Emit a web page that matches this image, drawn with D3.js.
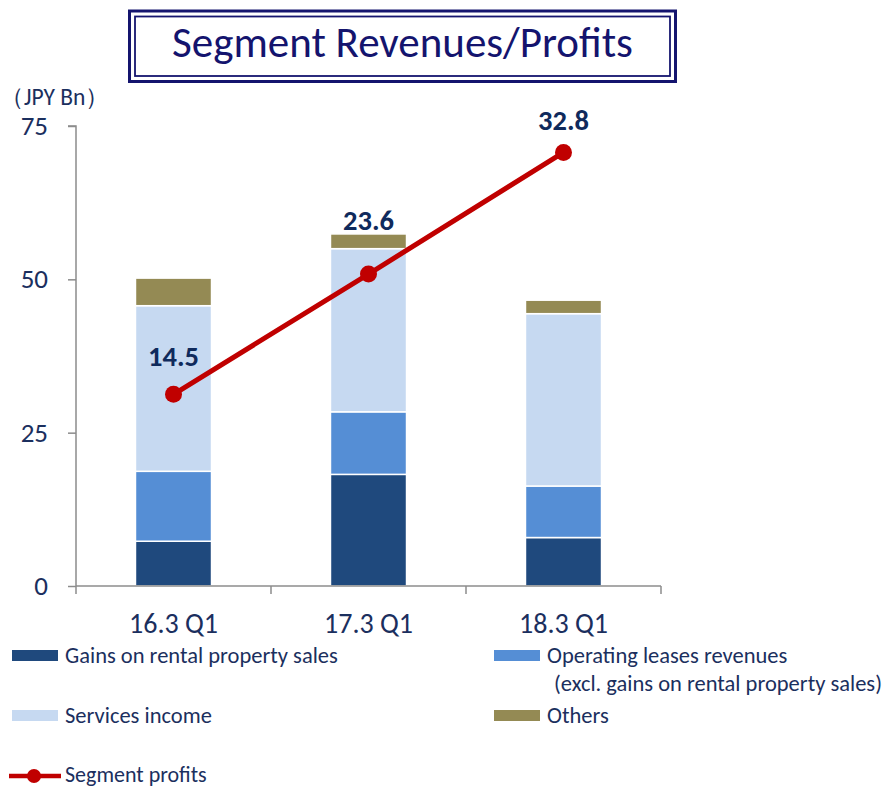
<!DOCTYPE html>
<html>
<head>
<meta charset="utf-8">
<script src="https://cdn.jsdelivr.net/npm/d3@7"></script>
<style>
  html, body { margin: 0; padding: 0; background: #fff; }
  svg { display: block; }
  text { font-family: Carlito, Calibri, Lato, "Open Sans", sans-serif; }
</style>
</head>
<body>
<svg id="chart" width="888" height="788"></svg>
<script>
// ---- data ----
const categories = ["16.3 Q1", "17.3 Q1", "18.3 Q1"];
const gainsOnSales = [7.3, 18.2, 7.9];
const operatingLeases = [11.4, 10.2, 8.4];
const servicesIncome = [27.0, 26.6, 28.1];
const others = [4.5, 2.4, 2.2];
const segmentProfits = [14.5, 23.6, 32.8];
const yTicks = [0, 25, 50, 75];
const seriesNames = ["Gains on rental property sales", "Operating leases revenues", "Services income", "Others"];

// ---- styles ----
const colors = ["#1f497d", "#558ed5", "#c6d9f1", "#948a54"];
const navy = "#1b2f5e";
const red = "#c00000";
const axisColor = "#8c8c8c";
const labelLift = [28, 44, 22];   // label baseline offset above each point (px)

const svg = d3.select("#chart");

// plot area
const pLeft = 76, pRight = 661, pTop = 126, pBottom = 586;

const x = d3.scaleBand().domain(categories).range([pLeft, pRight]).paddingInner(0.61).paddingOuter(0.305);
const y = d3.scaleLinear().domain([0, 75]).range([pBottom, pTop]);
const y2 = d3.scaleLinear().domain([0, 34.8]).range([pBottom, pTop]);

// title box
const tb = {x: 129.5, y: 11, w: 546, h: 70.5};
svg.append("rect").attr("x", tb.x).attr("y", tb.y).attr("width", tb.w).attr("height", tb.h)
  .attr("fill", "#fff").attr("stroke", "#14146e").attr("stroke-width", 3);
svg.append("rect").attr("x", tb.x + 5.5).attr("y", tb.y + 5.5).attr("width", tb.w - 11).attr("height", tb.h - 11)
  .attr("fill", "none").attr("stroke", "#14146e").attr("stroke-width", 1.8);
svg.append("text").attr("x", tb.x + tb.w / 2).attr("y", 57)
  .attr("text-anchor", "middle").attr("fill", "#14146e").attr("font-size", 43)
  .text("Segment Revenues/Profits");

// unit label
svg.append("text").attr("x", 0).attr("y", 105).attr("fill", navy).attr("font-size", 23.5)
  .text("（JPY Bn）");

// stacked data
const table = categories.map((c, i) => ({
  cat: c, s0: gainsOnSales[i], s1: operatingLeases[i], s2: servicesIncome[i], s3: others[i]
}));
const stacked = d3.stack().keys(["s0", "s1", "s2", "s3"])(table);

svg.append("g").selectAll("g").data(stacked).join("g")
  .attr("fill", (d, i) => colors[i])
  .selectAll("rect").data(d => d).join("rect")
  .attr("x", d => x(d.data.cat))
  .attr("width", x.bandwidth())
  .attr("y", d => y(d[1]))
  .attr("height", d => y(d[0]) - y(d[1]))
  .attr("stroke", "#fff").attr("stroke-width", 1.5);

// axes
const yAxis = svg.append("g").attr("transform", `translate(${pLeft},0)`)
  .call(d3.axisLeft(y).tickValues(yTicks).tickSize(8).tickPadding(20).tickFormat(d3.format("d")));
yAxis.select(".domain").attr("stroke", axisColor).attr("stroke-width", 1.5).attr("d", `M-8,${pTop}H0V${pBottom}`);
yAxis.selectAll(".tick line").attr("stroke", axisColor).attr("stroke-width", 1.5);
yAxis.selectAll(".tick text").attr("fill", navy).attr("font-size", 27)
  .attr("font-family", "Carlito, Calibri, Lato, sans-serif");

const xAxis = svg.append("g").attr("transform", `translate(0,${pBottom})`)
  .call(d3.axisBottom(x).tickSize(0).tickPadding(27));
xAxis.select(".domain").attr("stroke", axisColor).attr("stroke-width", 1.5).attr("d", `M${pLeft},0H${pRight}`);
xAxis.selectAll(".tick text").attr("fill", navy).attr("font-size", 28)
  .attr("font-family", "Carlito, Calibri, Lato, sans-serif");
const boundaries = categories.map(c => x(c) - x.step() * x.paddingInner() / 2).concat([pRight]);
xAxis.selectAll(".bnd").data(boundaries).join("line").attr("class", "bnd")
  .attr("x1", d => d).attr("x2", d => d).attr("y1", 0).attr("y2", 8)
  .attr("stroke", axisColor).attr("stroke-width", 1.5);

// profit line
const cx = c => x(c) + x.bandwidth() / 2;
const pts = categories.map((c, i) => [cx(c), y2(segmentProfits[i])]);
svg.append("path").attr("d", d3.line()(pts)).attr("fill", "none")
  .attr("stroke", red).attr("stroke-width", 5);
svg.append("g").selectAll("circle").data(pts).join("circle")
  .attr("cx", d => d[0]).attr("cy", d => d[1]).attr("r", 8.5).attr("fill", red);
svg.append("g").selectAll("text").data(categories).join("text")
  .attr("x", c => cx(c)).attr("y", (c, i) => y2(segmentProfits[i]) - labelLift[i])
  .attr("text-anchor", "middle").attr("fill", "#0f2a5c").attr("font-size", 28.5).attr("font-weight", "bold")
  .text((c, i) => segmentProfits[i].toFixed(1));

// legend
const leg = svg.append("g");
const legItems = [
  {i: 0, x: 12, y: 650, lines: ["Gains on rental property sales"]},
  {i: 1, x: 494, y: 650, lines: ["Operating leases revenues", "(excl. gains on rental property sales)"]},
  {i: 2, x: 12, y: 710, lines: ["Services income"]},
  {i: 3, x: 494, y: 710, lines: ["Others"]}
];
legItems.forEach(it => {
  leg.append("rect").attr("x", it.x).attr("y", it.y).attr("width", 46).attr("height", 11).attr("fill", colors[it.i]);
  it.lines.forEach((t, k) => {
    leg.append("text").attr("x", it.x + 53 + (k ? 7 : 0)).attr("y", it.y + 13 + k * 28)
      .attr("fill", navy).attr("font-size", 22.5).text(t);
  });
});
leg.append("line").attr("x1", 9).attr("x2", 61).attr("y1", 776).attr("y2", 776)
  .attr("stroke", red).attr("stroke-width", 4.5);
leg.append("circle").attr("cx", 34).attr("cy", 776).attr("r", 7).attr("fill", red);
leg.append("text").attr("x", 65).attr("y", 782).attr("fill", navy).attr("font-size", 22).text("Segment profits");
</script>
</body>
</html>
